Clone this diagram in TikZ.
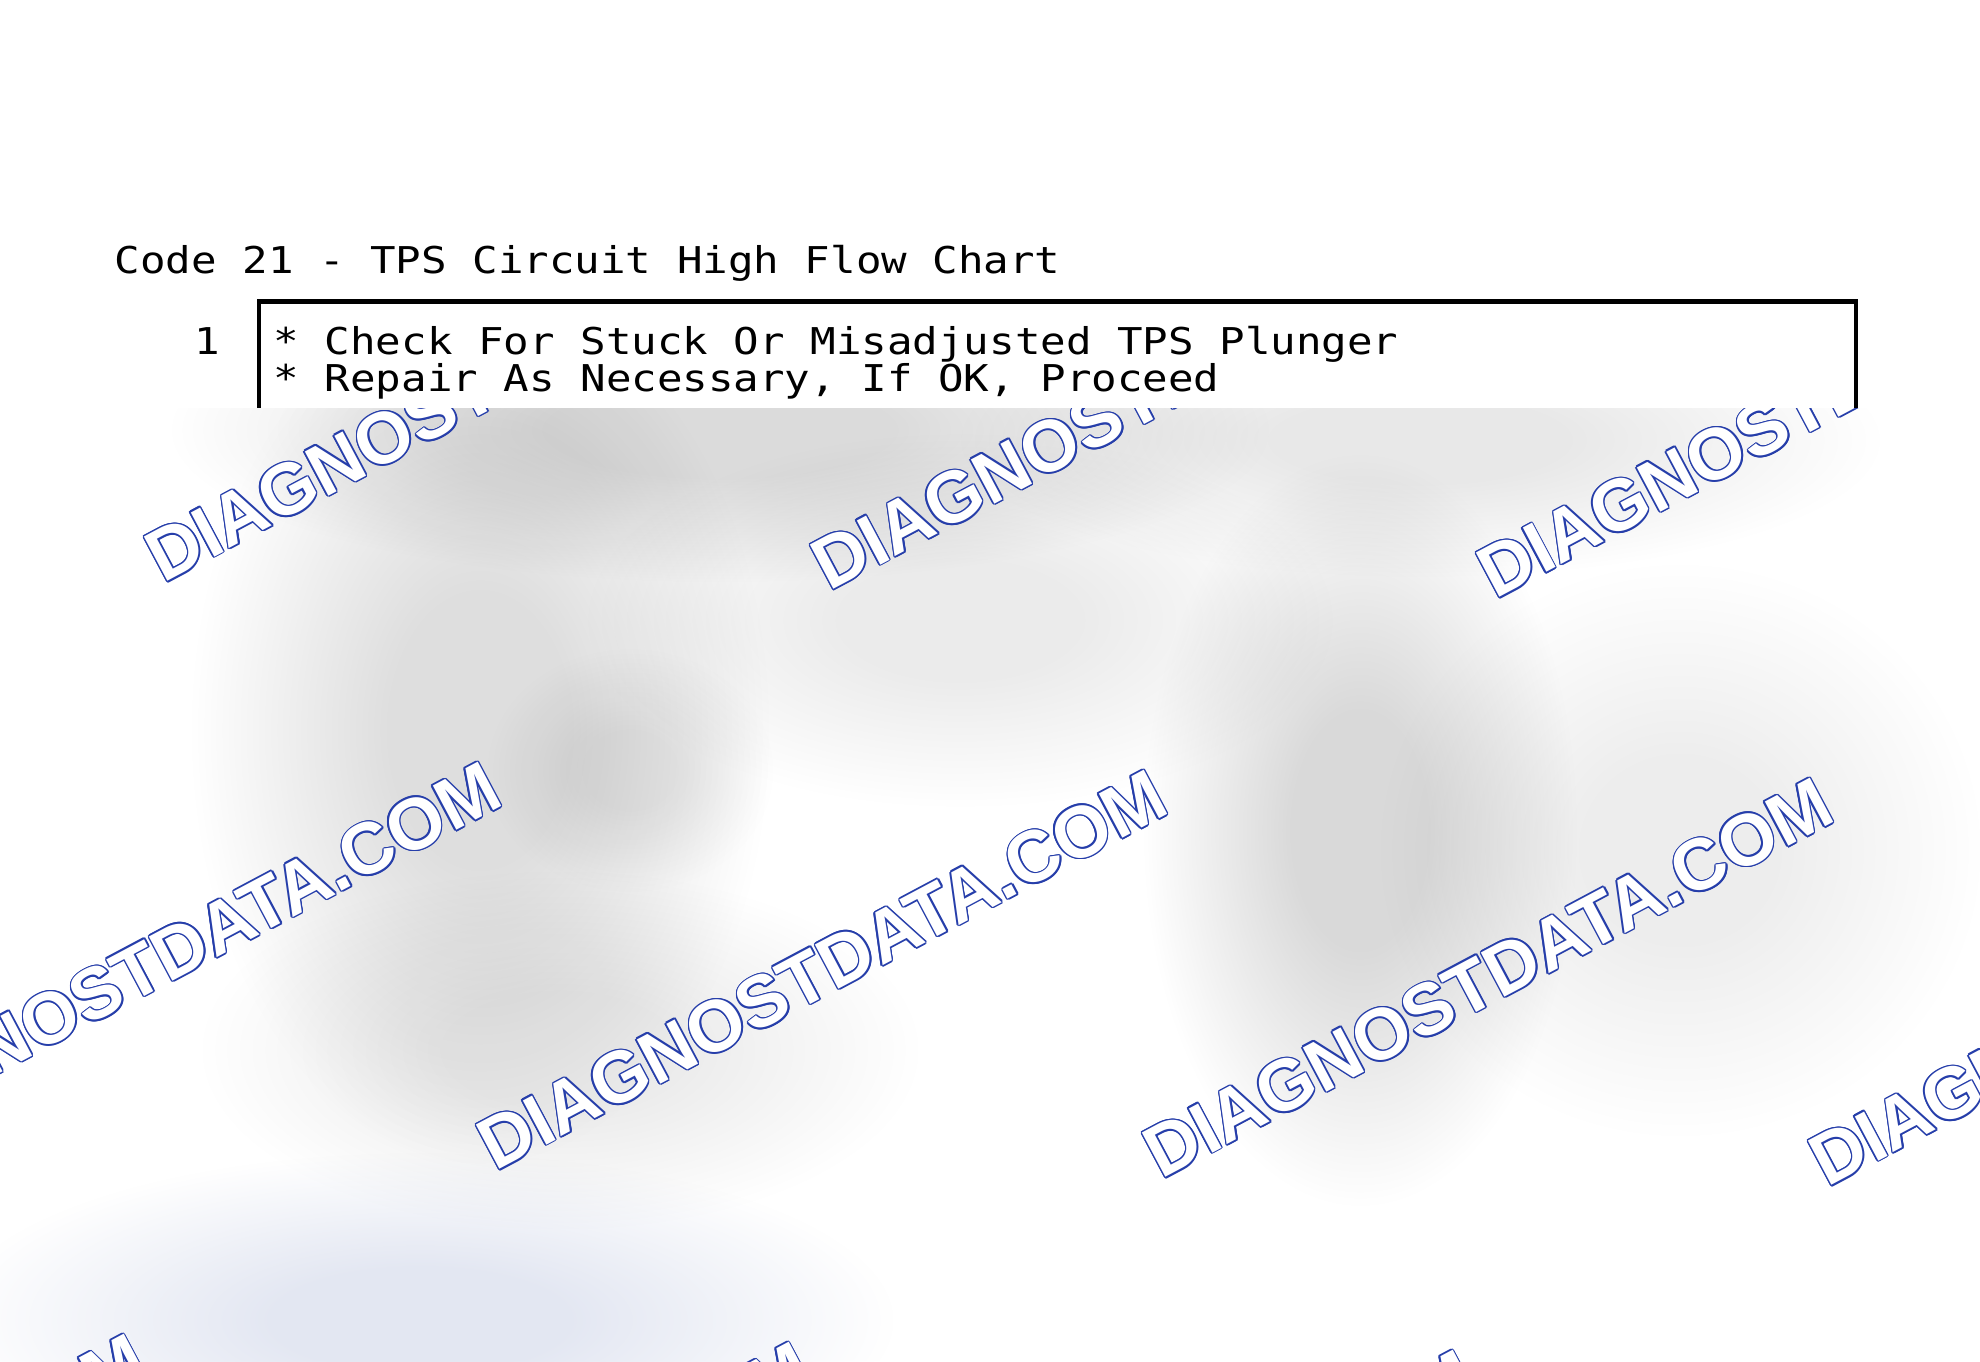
\documentclass[tikz,border=0pt]{standalone}
\usepackage{fontspec}
\newfontfamily\chartfont{DejaVu Sans Mono}[FakeStretch=1.15]
\newfontfamily\wmfont{Liberation Sans}
\usetikzlibrary{fadings}

\definecolor{wmblue}{RGB}{38,62,170}
\definecolor{haze}{RGB}{205,212,232}

% soft round blob used for the blurred part
\pgfdeclareradialshading{blobshade}{\pgfpoint{0bp}{0bp}}{color(0bp)=(white); color(5bp)=(white); color(16bp)=(black); color(50bp)=(black)}
\begin{tikzfadingfrompicture}[name=softblob]
  \shade[shading=blobshade] (-1cm,-1cm) rectangle (1cm,1cm);
\end{tikzfadingfrompicture}

\tikzset{
  chart text/.style={font=\chartfont\fontsize{10.5}{12}\selectfont, inner sep=0pt, anchor=base west},
  wm text/.style={font=\wmfont\bfseries\fontsize{20.7}{24}\selectfont, inner sep=0pt, anchor=base west, rotate=28},
  blob/.style={path fading=softblob}
}

% one outlined watermark
\newcommand\wmark[3]{%
  \foreach \a in {0,30,...,330}
    \node[wm text, text=wmblue, shift={(\a:1.5)}] (#1-\a) at (#2,#3) {DIAGNOSTDATA.COM};
  \node[wm text, text=white] (#1) at (#2,#3) {DIAGNOSTDATA.COM};
}

\begin{document}
\begin{tikzpicture}[x=0.01cm, y=-0.01cm]
  \useasboundingbox (0,0) rectangle (1980,1361);
  \fill[white] (0,0) rectangle (1980,1361);

  % title and first box
  \node[chart text] (title) at (114,274) {Code 21 - TPS Circuit High Flow Chart};
  \draw[line width=0.9pt] (259,520) |- (1856,301) -- (1856,520);
  \draw[line width=0.5pt] (259,303) -- (1856,303);
  \node[chart text] (num1) at (194,354) {1};
  \node[chart text] (l1) at (273,354) {* Check For Stuck Or Misadjusted TPS Plunger};
  \node[chart text] (l2) at (273,391) {* Repair As Necessary, If OK, Proceed};

  % blurred rest of the chart
  \begin{scope}
    \clip (0,408) rectangle (1980,1361);
    \fill[white] (0,408) rectangle (1980,1361);
    \foreach \cx/\cy/\rx/\ry/\o in {
        720/430/760/210/0.14, 1420/440/640/190/0.09,
        480/730/400/600/0.13, 630/770/200/170/0.07,
        960/620/520/260/0.08, 1360/830/300/520/0.15,
        1680/850/420/400/0.07, 560/1050/500/250/0.08}
      \fill[black, opacity=\o, blob] (\cx,\cy) ellipse [x radius=\rx, y radius=\ry];
    \fill[haze, opacity=0.55, blob] (420,1320) ellipse [x radius=650, y radius=230];

    % watermarks
    \wmark{wa}{163}{584}
    \wmark{wb}{829}{592}
    \wmark{wc}{1495}{600}
    \wmark{wd}{-171}{1164}
    \wmark{we}{495}{1172}
    \wmark{wf}{1161}{1180}
    \wmark{wg}{1827}{1188}
    \wmark{wh}{-525}{1736}
    \wmark{wi}{140}{1744}
    \wmark{wj}{804}{1752}
  \end{scope}
\end{tikzpicture}
\end{document}
